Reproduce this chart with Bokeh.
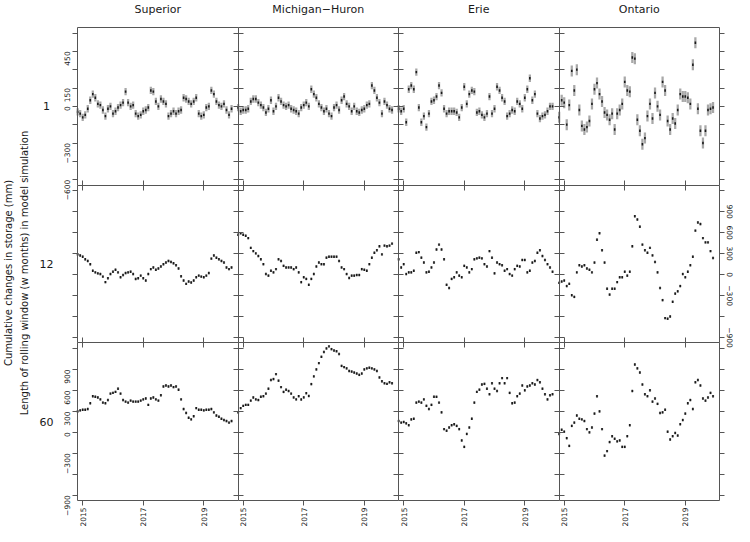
import math
from bokeh.plotting import figure
from bokeh.models import Range1d, LinearAxis, FixedTicker, Label, ColumnDataSource, AllLabels
from bokeh.embed import file_html
from bokeh.resources import INLINE

lakes = ["Superior", "Michigan\u2212Huron", "Erie", "Ontario"]
windows = ["1", "12", "60"]

# monthly series, Nov 2014 .. Dec 2019
months = [(2014, 11), (2014, 12)] + [(y, m) for y in range(2015, 2020) for m in range(1, 13)]
t = [y + (m - 1) / 12 for y, m in months]

superior_w1 = [-45, -60, -90, -70, -20, 50, 100, 70, 20, 10, -30, -80, -20, 0, -60, -40, -10, 10, 30, 120,
               30, 0, 10, -60, -80, -70, -40, -30, -10, 130, 120, 40, 0, 60, 40, 20, -80, -60, -40, -60,
               -40, -30, 70, 60, 40, 20, 40, 70, -60, -80, -70, -10, 0, 130, 100, 40, 10, 0, 20, -30, -70, -20]
michigan_w1 = [-10, -40, -30, -30, -20, 40, 60, 60, 30, 10, -10, -50, -20, 50, -40, 0, 70, 40, 10, 0,
               10, -20, -30, -40, -60, -10, 10, 30, 0, 140, 100, 70, 20, -10, -40, -20, -60, -80, -10, 10,
               -30, 50, 80, 20, 0, -40, 0, -40, -50, -30, -20, 10, 20, 170, 130, 70, 30, -60, 40, 10, -20, -30]
erie_w1 = [-20, -40, -20, -130, 140, 170, 140, 280, -10, -130, -80, -170, -60, 40, 50, 80, 170, 110, -20, -60,
           -40, -40, -40, -50, -90, -10, 160, 20, 100, 130, 120, -50, -40, -70, -90, -60, 80, -60, -20, 160,
           130, 70, 40, -80, -60, -30, -40, 40, 20, -20, 70, 140, 230, 50, 100, -60, -100, -80, -70, -40, 0, 0]
ontario_w1 = [-90, 50, 30, -150, 10, 290, 130, 300, -30, -160, -190, -170, -120, 20, 140, 190, 100, 40, -50, -70,
              -110, -60, -190, -60, -30, 20, 200, 130, 120, 400, 390, -110, -200, -310, -260, -80, 20, -100, 110, 0,
              -70, 200, 130, -120, -190, -100, -140, -30, 100, 80, 80, 70, 20, 340, 520, -20, -200, -300, -200, -30, -20, -10]

superior_w12 = [290, 275, 257, 220, 196, 150, 56, 33, 19, 9, -28, -107, -51, 9, 42, 70, 33, -37, -5, 23,
                33, 42, 9, -61, -51, -14, -51, -84, 9, 79, 103, 70, 89, 117, 150, 173, 196, 182, 163, 135,
                89, -23, -84, -131, -98, -112, -84, -37, -14, -28, -37, -14, 23, 229, 275, 243, 220, 196, 173, 103, 79, 103]
michigan_w12 = [570, 593, 570, 556, 523, 383, 336, 304, 266, 220, 150, 9, -14, 56, 33, 79, 220, 196, 126, 103,
                103, 103, 79, 103, 33, -107, -37, -61, -145, -61, 9, 117, 173, 150, 150, 243, 257, 257, 257, 257,
                196, 103, 79, 9, -47, -14, -14, -5, -5, 79, 70, 56, 150, 243, 313, 350, 406, 290, 416, 406, 416, 444]
erie_w12 = [220, 103, 150, 9, 33, 33, 56, 313, 322, 243, 173, 33, 42, 103, 173, 360, 430, 360, 220, -145,
            -191, -61, -37, 33, -14, -37, 126, 103, 33, 79, 220, 233, 243, 233, 150, 117, 336, 243, 19, 173,
            150, 135, 56, 79, 9, -14, 79, 126, 117, 210, 210, 33, 56, 173, 196, 313, 350, 266, 210, 150, 103, 42]
ontario_w12 = [-117, -98, -84, -163, -131, -294, -318, 33, 135, 117, 135, 89, 70, 33, 173, 500, 593, 350, 173, -201,
               -285, -201, -201, -107, -37, -37, 42, -14, 42, 406, 836, 789, 686, 430, 350, 313, 383, 276, 182, 33,
               -191, -364, -621, -630, -598, -388, -271, -238, -163, 9, -37, 42, 135, 257, 630, 747, 724, 523, 462, 462, 336, 238]

superior_w60 = [300, 314, 323, 323, 333, 416, 517, 508, 499, 471, 425, 416, 462, 554, 564, 578, 624, 554, 462, 439,
                425, 453, 439, 439, 439, 453, 471, 485, 393, 485, 499, 471, 453, 531, 656, 670, 656, 670, 647, 656,
                610, 471, 333, 277, 208, 185, 231, 346, 323, 323, 314, 323, 323, 333, 286, 240, 222, 194, 176, 162, 139, 162]
michigan_w60 = [286, 346, 379, 393, 393, 453, 499, 471, 462, 508, 517, 554, 624, 748, 762, 832, 739, 647, 578, 610,
                591, 554, 499, 471, 517, 470, 500, 560, 520, 690, 800, 900, 990, 1080, 1150, 1200, 1230, 1190, 1170, 1160,
                1120, 950, 933, 915, 878, 869, 855, 841, 822, 841, 900, 915, 924, 915, 900, 878, 785, 730, 702, 693, 716, 702]
erie_w60 = [162, 139, 148, 129, 102, 185, 194, 425, 439, 425, 471, 379, 333, 393, 508, 508, 425, 286, 46, 23,
            69, 102, 116, 92, 46, -116, -208, -23, 69, 194, 425, 578, 610, 684, 693, 624, 545, 702, 624, 591,
            702, 776, 702, 776, 564, 416, 425, 517, 554, 670, 601, 656, 670, 702, 684, 748, 716, 624, 545, 471, 531, 545]
ontario_w60 = [-23, 37, 9, -83, -194, 92, 139, 240, 194, 185, 162, 46, 0, 69, 268, 517, 300, 46, -333, -268,
               -139, -55, -92, -129, -116, -208, -208, -55, 102, 591, 970, 915, 855, 684, 545, 517, 601, 439, 485, 407,
               277, 286, 323, 9, -102, -55, -9, -46, 116, 176, 268, 416, 462, 333, 716, 748, 670, 485, 453, 499, 564, 517]

series = [[superior_w1, michigan_w1, erie_w1, ontario_w1],
          [superior_w12, michigan_w12, erie_w12, ontario_w12],
          [superior_w60, michigan_w60, erie_w60, ontario_w60]]

# half range of the simulation spread (mm) per panel
half_spread_w1 = [30, 30, 30, 45]
half_spread_w12 = [16, 16, 16, 16]
half_spread_w60 = [16, 16, 16, 16]
half_spread = [half_spread_w1, half_spread_w12, half_spread_w60]

yticks_w1 = [-600, -450, -300, -150, 0, 150, 300, 450, 600]
ylabels_w1 = [450, 150, 0, -300, -600]
yticks_w = [-900, -600, -300, 0, 300, 600, 900, 1200]
ylabels_w = [900, 600, 300, 0, -300, -900]
xticks = [2015, 2017, 2019]

xlim = (2014.828, 2020.13)
row_lims = [(-645, 645), (-975, 1280), (-975, 1280)]

FRAME = "#555555"
TEXT = "#1a1a1a"
FONT = "DejaVu Sans"
BAR_W = 0.075  # years (about 2 px)

# canvas geometry (pixels): whole canvas is the plotting frame, panels inside it
W, HT = 734, 526
LEFT, TOP = 77, 27
CW, RH = 160.5, 157.67

p = figure(width=W, height=HT, output_backend="svg", toolbar_location=None,
           x_range=Range1d(0, 1), y_range=Range1d(0, 1),
           x_axis_location=None, y_axis_location=None,
           min_border=0)
p.outline_line_color = None
p.grid.visible = False

S = xlim[1] - xlim[0]
for c in range(4):
    k = CW / S
    start = xlim[0] - (LEFT + c * CW) / k
    p.extra_x_ranges[f"x{c}"] = Range1d(start, start + W / k)
for r in range(3):
    lo, hi = row_lims[r]
    u = (hi - lo) / RH
    end = hi + (TOP + r * RH) * u
    p.extra_y_ranges[f"y{r}"] = Range1d(end - HT * u, end)

for r in range(3):
    for c in range(4):
        v = series[r][c]
        hs = half_spread[r][c]
        src = ColumnDataSource(dict(t=t, v=v, lo=[a - hs for a in v], hi=[a + hs for a in v]))
        p.vbar(x="t", bottom="lo", top="hi", width=BAR_W, source=src,
               x_range_name=f"x{c}", y_range_name=f"y{r}",
               fill_color="#a8a8a8", line_color=None)
        p.rect(x="t", y="v", width=1.6, height=2.4, width_units="screen", height_units="screen",
               source=src, x_range_name=f"x{c}", y_range_name=f"y{r}",
               fill_color="#1a1a1a", line_color=None)


def styled_axis(ax, tin, tout, orient=math.pi / 2):
    ax.axis_line_color = FRAME
    ax.major_tick_line_color = FRAME
    ax.minor_tick_line_color = FRAME
    ax.major_tick_in = tin
    ax.major_tick_out = tout
    ax.minor_tick_in = tin
    ax.minor_tick_out = tout
    ax.major_label_text_font = FONT
    ax.major_label_text_font_size = "7.5px"
    ax.major_label_text_color = TEXT
    ax.major_label_orientation = orient
    ax.major_label_policy = AllLabels()
    return ax


# vertical borders with y ticks
for r in range(3):
    lo, hi = row_lims[r]
    all_ticks = yticks_w1 if r == 0 else yticks_w
    for b in range(5):
        c = min(b, 3)
        loc = xlim[0] if b < 4 else xlim[1]
        standoff = 5
        orient = math.pi / 2
        if b == 0:
            labeled = ylabels_w1 if r == 0 else (ylabels_w if r == 2 else [])
            tin, tout, side = 0, 5, "left"
        elif b == 4:
            labeled = ylabels_w if r == 1 else []
            tin, tout, side = 0, 5, "right"
            standoff = 2
            orient = "vertical"
        else:
            labeled = []
            tin, tout, side = 5, 5, "left"
        ax = LinearAxis(x_range_name=f"x{c}", y_range_name=f"y{r}", fixed_location=loc, bounds=(lo, hi),
                        ticker=FixedTicker(ticks=labeled, minor_ticks=[k for k in all_ticks if k not in labeled]))
        styled_axis(ax, tin, tout, orient)
        ax.major_label_standoff = standoff
        p.add_layout(ax, side)

# horizontal borders with x ticks
for h in range(4):
    r = min(h, 2)
    loc = row_lims[r][1] if h < 3 else row_lims[2][0]
    for c in range(4):
        if h == 0:
            labeled, minor, tin, tout, side = [], [], 0, 0, "above"
        elif h == 3:
            labeled, minor, tin, tout, side = xticks, [], 0, 5, "below"
        else:
            labeled, minor, tin, tout, side = [], xticks, 5, 5, "below"
        ax = LinearAxis(x_range_name=f"x{c}", y_range_name=f"y{r}", fixed_location=loc, bounds=xlim,
                        ticker=FixedTicker(ticks=labeled, minor_ticks=minor))
        styled_axis(ax, tin, tout)
        ax.major_label_standoff = 2
        p.add_layout(ax, side)

xmid = (xlim[0] + xlim[1]) / 2
for c, name in enumerate(lakes):
    p.add_layout(Label(x=xmid, y=row_lims[0][1], x_range_name=f"x{c}", y_range_name="y0",
                       text=name, y_offset=18, text_align="center", text_baseline="alphabetic",
                       text_font=FONT, text_font_size="11px", text_color=TEXT))

for r, w in enumerate(windows):
    lo, hi = row_lims[r]
    p.add_layout(Label(x=xlim[0], y=(lo + hi) / 2, x_range_name="x0", y_range_name=f"y{r}",
                       text=w, x_offset=-31, text_align="center", text_baseline="middle",
                       text_font=FONT, text_font_size="11px", text_color=TEXT))

mid1 = sum(row_lims[1]) / 2
for txt, off in [("Cumulative changes in storage (mm)", -69),
                 ("Length of rolling window (w months) in model simulation", -53)]:
    p.add_layout(Label(x=xlim[0], y=mid1, x_range_name="x0", y_range_name="y1",
                       text=txt, x_offset=off, y_offset=-9, angle=math.pi / 2,
                       text_align="center", text_baseline="middle",
                       text_font=FONT, text_font_size="10px", text_color=TEXT))

open("out.html", "w").write(file_html(p, INLINE))
